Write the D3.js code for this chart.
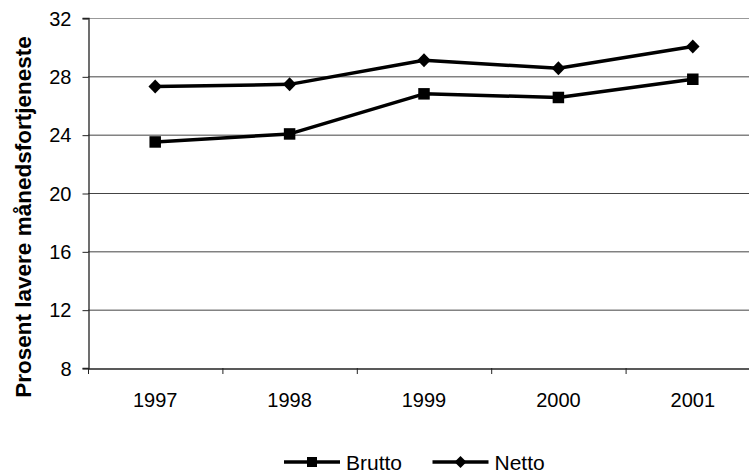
<!DOCTYPE html>
<html><head><meta charset="utf-8">
<script src="https://cdn.jsdelivr.net/npm/d3@7"></script>
<style>body{margin:0;background:#fff}svg{display:block}text{font-family:"Liberation Sans",Arial,sans-serif}</style>
</head><body><svg id="c" width="749" height="475"></svg>
<script>
const years = ["1997","1998","1999","2000","2001"];
const brutto = [23.5, 24.05, 26.8, 26.55, 27.8];
const netto = [27.3, 27.45, 29.1, 28.55, 30.05];
const yTicks = [8,12,16,20,24,28,32];
const seriesNames = ["Brutto","Netto"];

const svg = d3.select("#c");
const L=88, R=760, T=18, B=368;
const x = d3.scaleBand().domain(years).range([L,R]);
const y = d3.scaleLinear().domain([8,32]).range([B,T]);

// gridlines
svg.append("g").selectAll("line").data(yTicks.filter(d=>d>8)).join("line")
  .attr("x1",L).attr("x2",R).attr("y1",d=>y(d)+0.5).attr("y2",d=>y(d)+0.5)
  .attr("stroke",d=>d===32?"#999":"#444").attr("stroke-width",1);

// y axis
const ya = svg.append("g").attr("transform",`translate(${L+0.5},0)`)
  .call(d3.axisLeft(y).tickValues(yTicks).tickSize(6).tickPadding(11));
ya.select(".domain").attr("stroke","#222").attr("stroke-width",1.3);
ya.selectAll(".tick line").attr("stroke","#222").attr("transform","translate(0,0.5)");
ya.selectAll("text").attr("font-size",20).attr("fill","#000").attr("dy","0.35em").attr("y",0);

// x axis
const xa = svg.append("g").attr("transform",`translate(0,${B+0.5})`)
  .call(d3.axisBottom(x).tickSize(0).tickPadding(0));
xa.select(".domain").attr("stroke","#222").attr("stroke-width",1.3);
xa.selectAll(".tick text").attr("font-size",20).attr("fill","#000").attr("y",38).attr("dy",0);
// boundary ticks
svg.append("g").selectAll("line").data(years.map((d,i)=>i)).join("line")
  .attr("x1",i=>L+i*x.step()+0.5).attr("x2",i=>L+i*x.step()+0.5)
  .attr("y1",B).attr("y2",B+6).attr("stroke","#222");

// y title
svg.append("text").attr("transform",`translate(31,217) rotate(-90)`)
  .attr("text-anchor","middle").attr("font-size",22.5).attr("font-weight","bold")
  .text("Prosent lavere månedsfortjeneste");

const line = d3.line().x((d,i)=>x(years[i])+x.bandwidth()/2).y(d=>y(d));
const sq = s => `M${-s/2},${-s/2}H${s/2}V${s/2}H${-s/2}Z`;
const di = (w,h) => `M0,${-h/2}L${w/2},0L0,${h/2}L${-w/2},0Z`;

function drawSeries(vals, d){
  svg.append("path").datum(vals).attr("d",line).attr("fill","none")
    .attr("stroke","#000").attr("stroke-width",3.5).attr("stroke-linejoin","round");
  svg.append("g").selectAll("path").data(vals).join("path")
    .attr("transform",(v,i)=>`translate(${x(years[i])+x.bandwidth()/2},${y(v)})`)
    .attr("d",d).attr("fill","#000");
}
drawSeries(brutto, sq(11.5));
drawSeries(netto, di(13.5,14));

// legend
const leg = [{name:seriesNames[0],d:sq(10),x0:284},{name:seriesNames[1],d:di(12,12),x0:432.5}];
const ly = 462;
leg.forEach(l=>{
  svg.append("line").attr("x1",l.x0).attr("x2",l.x0+56).attr("y1",ly).attr("y2",ly)
    .attr("stroke","#000").attr("stroke-width",3.5);
  svg.append("path").attr("transform",`translate(${l.x0+28},${ly})`).attr("d",l.d).attr("fill","#000");
  svg.append("text").attr("x",l.x0+62).attr("y",ly+7.5).attr("font-size",21).text(l.name);
});
</script></body></html>
